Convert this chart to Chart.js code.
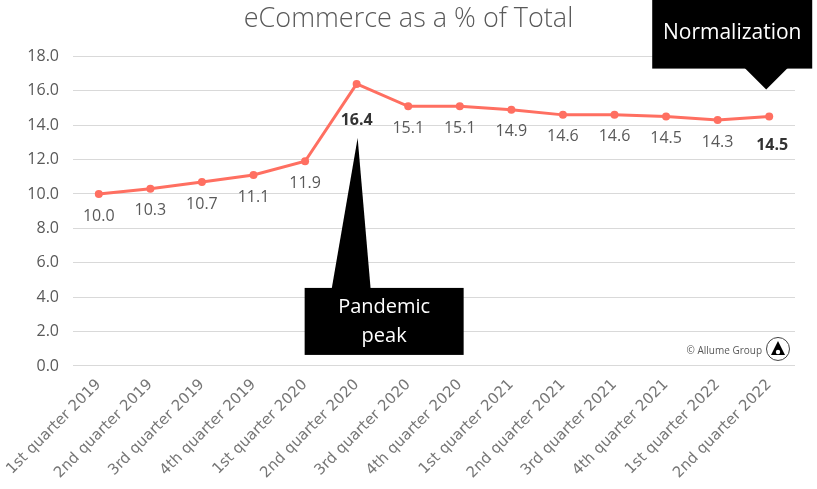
<!DOCTYPE html>
<html>
<head>
<meta charset="utf-8">
<title>eCommerce as a % of Total</title>
<script src="https://cdn.jsdelivr.net/npm/chart.js@4.4.1/dist/chart.umd.min.js"></script>
<style>
  html, body { margin: 0; padding: 0; background: #fff; }
  #wrap { width: 817px; height: 489px; position: relative; }
</style>
</head>
<body>
<div id="wrap"><canvas id="ecomChart"></canvas></div>
<script>
/* ── DATA ─────────────────────────────────────────────────── */
const quarters = [
  '1st quarter 2019', '2nd quarter 2019', '3rd quarter 2019', '4th quarter 2019',
  '1st quarter 2020', '2nd quarter 2020', '3rd quarter 2020', '4th quarter 2020',
  '1st quarter 2021', '2nd quarter 2021', '3rd quarter 2021', '4th quarter 2021',
  '1st quarter 2022', '2nd quarter 2022'
];
const ecomShare = [10.0, 10.3, 10.7, 11.1, 11.9, 16.4, 15.1, 15.1, 14.9, 14.6, 14.6, 14.5, 14.3, 14.5];
const yTicks = [0, 2, 4, 6, 8, 10, 12, 14, 16, 18];
const boldPoints = [5, 13];

const LINE_COLOR = '#FF6F61';
const FONT = "'Open Sans', 'Segoe UI', sans-serif";

/* ── value labels under each point ───────────────────────── */
const valueLabels = {
  id: 'valueLabels',
  afterDatasetsDraw(chart) {
    const { ctx } = chart;
    const meta = chart.getDatasetMeta(0);
    ctx.save();
    ctx.textAlign = 'center';
    ctx.textBaseline = 'middle';
    meta.data.forEach((pt, i) => {
      const bold = boldPoints.includes(i);
      ctx.font = (bold ? 'bold ' : '') + '16px ' + FONT;
      ctx.fillStyle = bold ? '#333333' : '#595959';
      const dy = i === 5 ? 37 : (bold ? 29 : 22);
      ctx.fillText(ecomShare[i].toFixed(1), pt.x + (i === 13 ? 3 : 0), pt.y + dy);
    });
    ctx.restore();
  }
};

/* ── callout boxes + credit ───────────────────────────────── */
function callout(ctx, box, tri, lines, size, lineGap) {
  ctx.fillStyle = '#000';
  ctx.beginPath();
  ctx.moveTo(tri[0][0], tri[0][1]);
  ctx.lineTo(tri[1][0], tri[1][1]);
  ctx.lineTo(tri[2][0], tri[2][1]);
  ctx.closePath();
  ctx.fill();
  ctx.fillRect(box.x, box.y, box.w, box.h);
  ctx.fillStyle = '#fff';
  ctx.font = size + 'px ' + FONT;
  ctx.textAlign = 'center';
  ctx.textBaseline = 'middle';
  const cx = box.x + box.w / 2;
  const cy = box.y + box.h / 2 - (lines.length - 1) * lineGap / 2;
  lines.forEach((t, i) => ctx.fillText(t, cx, cy + i * lineGap));
}

const annotations = {
  id: 'annotations',
  afterDraw(chart) {
    const { ctx } = chart;
    const pts = chart.getDatasetMeta(0).data;
    ctx.save();

    // pandemic peak, pointing up at Q2 2020
    const pk = pts[5];
    callout(ctx,
      { x: pk.x - 52, y: pk.y + 204, w: 159, h: 67 },
      [[pk.x + 1, pk.y + 54], [pk.x - 25, pk.y + 205], [pk.x + 14, pk.y + 205]],
      ['Pandemic', 'peak'], 20, 29);

    // normalization, pointing down at Q2 2022
    const nm = pts[13];
    callout(ctx,
      { x: nm.x - 117, y: -2, w: 160, h: nm.y - 46 },
      [[nm.x - 3, nm.y - 27], [nm.x - 25, nm.y - 49], [nm.x + 19, nm.y - 49]],
      ['Normalization'], 21, 0);

    // credit + logo, bottom right of plot
    const area = chart.chartArea;
    const lx = area.right - 17, ly = area.bottom - 17;
    ctx.font = '10px ' + FONT;
    ctx.fillStyle = '#595959';
    ctx.textAlign = 'right';
    ctx.textBaseline = 'middle';
    ctx.fillText('© Allume Group', lx - 16, ly + 2);
    ctx.beginPath();
    ctx.arc(lx, ly, 11.5, 0, Math.PI * 2);
    ctx.fillStyle = '#fff';
    ctx.fill();
    ctx.strokeStyle = '#444';
    ctx.lineWidth = 1;
    ctx.stroke();
    ctx.fillStyle = '#000';
    ctx.beginPath();
    ctx.moveTo(lx, ly - 8);
    ctx.lineTo(lx + 7, ly + 6);
    ctx.lineTo(lx - 7, ly + 6);
    ctx.closePath();
    ctx.fill();
    ctx.fillStyle = '#fff';
    ctx.beginPath();
    ctx.arc(lx, ly + 3, 2.2, 0, Math.PI * 2);
    ctx.fill();
    ctx.restore();
  }
};

/* ── CHART ────────────────────────────────────────────────── */
new Chart(document.getElementById('ecomChart'), {
  type: 'line',
  data: {
    labels: quarters,
    datasets: [{
      label: 'eCommerce as a % of Total',
      data: ecomShare,
      borderColor: LINE_COLOR,
      backgroundColor: LINE_COLOR,
      borderWidth: 3,
      pointRadius: 4,
      pointBackgroundColor: LINE_COLOR,
      pointBorderWidth: 0,
      tension: 0,
    }],
  },
  options: {
    responsive: true,
    maintainAspectRatio: false,
    animation: false,
    layout: { padding: { left: 22, right: 22, top: 0, bottom: 5 } },
    plugins: {
      legend: { display: false },
      tooltip: { enabled: false },
      title: {
        display: true,
        text: 'eCommerce as a % of Total',
        color: '#595959',
        font: { family: FONT, size: 27, weight: '300' },
        padding: { top: 3, bottom: 21 },
      },
    },
    scales: {
      x: {
        offset: true,
        grid: { display: false },
        border: { display: false },
        ticks: {
          color: '#767676',
          font: { family: "'DejaVu Sans', sans-serif", size: 15 },
          minRotation: 45,
          maxRotation: 45,
          padding: 2,
        },
      },
      y: {
        min: 0,
        max: 18,
        afterBuildTicks: s => { s.ticks = yTicks.map(v => ({ value: v })); },
        afterFit: s => { s.width = 51; },
        grid: { color: '#d9d9d9', drawTicks: false, lineWidth: 1 },
        border: { display: false },
        ticks: {
          color: '#595959',
          font: { family: FONT, size: 16 },
          padding: 14,
          callback: v => v.toFixed(1),
        },
      },
    },
  },
  plugins: [valueLabels, annotations],
});
</script>
</body>
</html>
